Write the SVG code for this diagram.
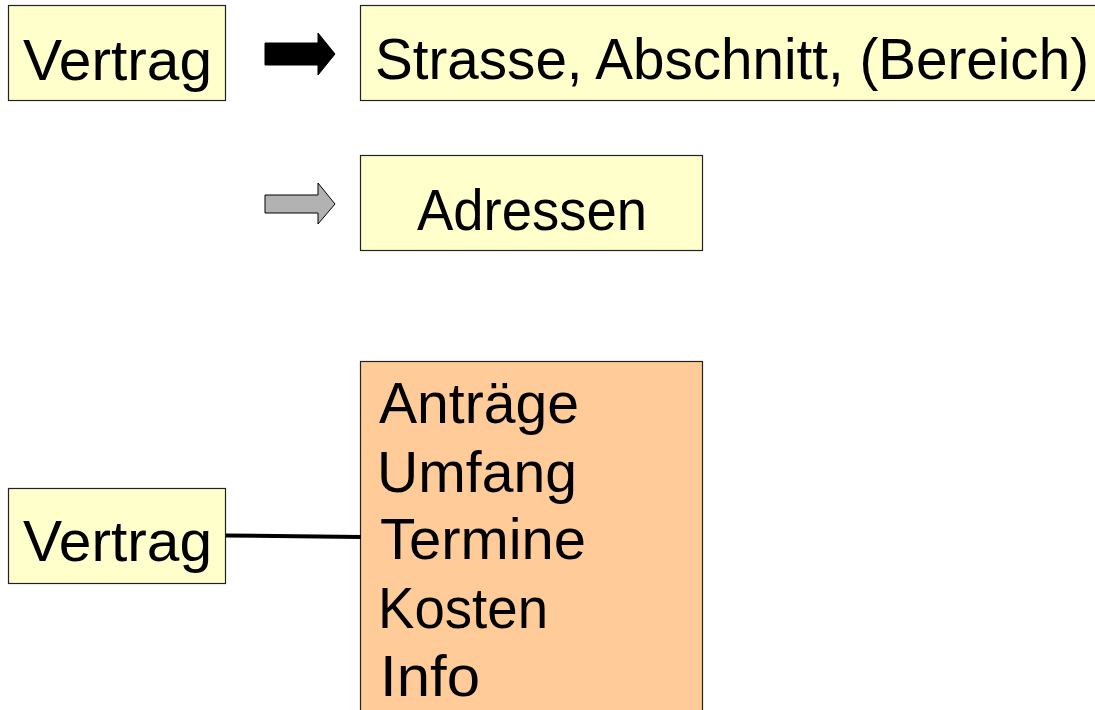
<svg xmlns="http://www.w3.org/2000/svg" width="1095" height="710" viewBox="0 0 1095 710">
<style>
.box{fill:#FFFFCC;stroke:#222;stroke-width:1.2}
.obox{fill:#FFCC99;stroke:#222;stroke-width:1.2}
.t{font-family:"Liberation Sans",Arial,sans-serif;font-size:58px;fill:#000}
</style>
<rect width="1095" height="710" fill="#fff"/>
<g id="vertrag1">
<rect class="box" x="8.5" y="5.5" width="217" height="95"/>
<text class="t" x="23" y="80" textLength="189" lengthAdjust="spacingAndGlyphs">Vertrag</text>
</g>
<g id="strasse">
<rect class="box" x="360.5" y="5.5" width="760" height="95"/>
<text class="t" x="375" y="79" textLength="714" lengthAdjust="spacingAndGlyphs">Strasse, Abschnitt, (Bereich)</text>
</g>
<g id="adressen">
<rect class="box" x="360.5" y="155.5" width="342" height="95"/>
<text class="t" x="417" y="230" textLength="230" lengthAdjust="spacingAndGlyphs">Adressen</text>
</g>
<g id="vertrag2">
<rect class="box" x="8.5" y="488.5" width="217" height="95"/>
<text class="t" x="23" y="561" textLength="189" lengthAdjust="spacingAndGlyphs">Vertrag</text>
</g>
<g id="details">
<rect class="obox" x="360.5" y="361.5" width="342" height="400"/>
<text class="t" x="379" y="423" textLength="200" lengthAdjust="spacingAndGlyphs">Anträge</text>
<text class="t" x="377" y="492" textLength="200" lengthAdjust="spacingAndGlyphs">Umfang</text>
<text class="t" x="380" y="559" textLength="206" lengthAdjust="spacingAndGlyphs">Termine</text>
<text class="t" x="378" y="628" textLength="170" lengthAdjust="spacingAndGlyphs">Kosten</text>
<text class="t" x="380" y="696" textLength="100" lengthAdjust="spacingAndGlyphs">Info</text>
</g>
<g id="connectors">
<polygon points="265,43 318,43 318,33 335,54 318,75 318,65 265,65" fill="#000" stroke="#000" stroke-width="1"/>
<polygon points="265,195 318,195 318,183 335,204 318,224 318,213 265,213" fill="#B2B2B2" stroke="#000" stroke-width="1"/>
<line x1="226" y1="535.5" x2="361" y2="537" stroke="#000" stroke-width="4"/>
</g>
</svg>
